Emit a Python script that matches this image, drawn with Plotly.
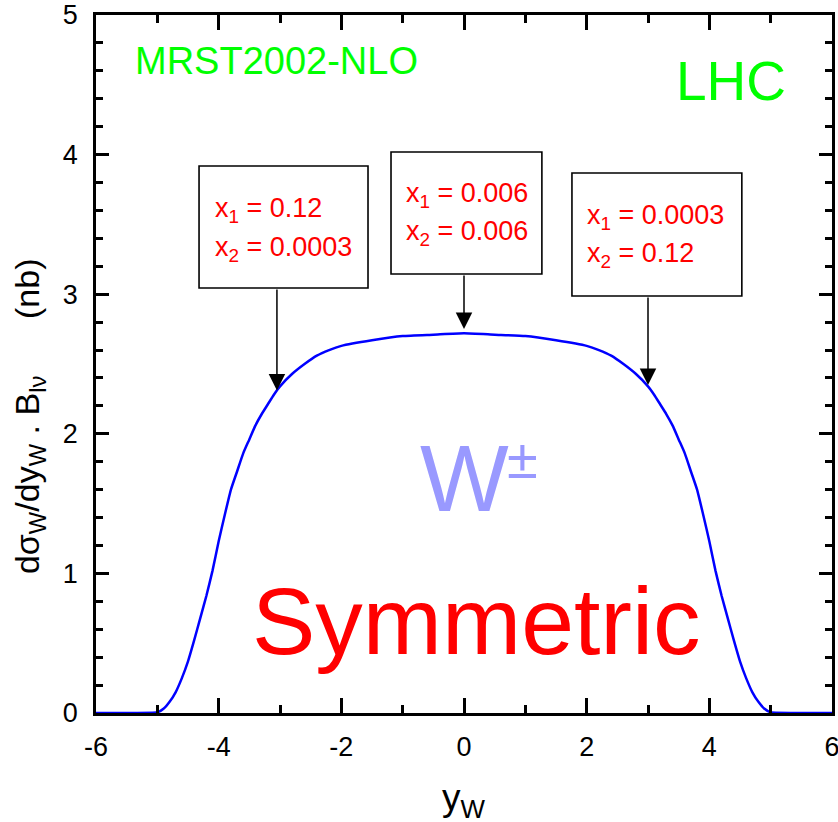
import plotly.graph_objects as go

# Rapidity values (positive half; the distribution is symmetric in y_W)
y_half = [0.0, 0.5, 1.0, 1.5, 2.0, 2.2, 2.4, 2.6, 2.8, 3.0, 3.1, 3.2, 3.3, 3.4,
          3.5, 3.6, 3.7, 3.8, 3.9, 4.0, 4.1, 4.2, 4.3, 4.4, 4.5, 4.6, 4.7,
          4.8, 4.9, 5.0, 5.5, 6.0]
# dsigma_W/dy_W * B(l nu) in nb at those rapidities
dsig_half = [2.72, 2.71, 2.70, 2.67, 2.63, 2.60, 2.56, 2.50, 2.43, 2.34, 2.28,
             2.21, 2.14, 2.06, 1.96, 1.86, 1.73, 1.60, 1.42, 1.23, 1.02, 0.84,
             0.68, 0.52, 0.37, 0.25, 0.15, 0.08, 0.03, 0.005, 0.0, 0.0]

y_w = [-v for v in reversed(y_half[1:])] + y_half
dsig = list(reversed(dsig_half[1:])) + dsig_half

# Axis tick values and labels (plain hyphen for negatives)
x_ticks = [-6, -4, -2, 0, 2, 4, 6]
x_ticklabels = ["-6", "-4", "-2", "0", "2", "4", "6"]
y_ticks = [0, 1, 2, 3, 4, 5]
y_ticklabels = ["0", "1", "2", "3", "4", "5"]

# Parton momentum fractions quoted at three rapidities
box_labels = [
    ("x<sub>1</sub> = 0.12", "x<sub>2</sub> = 0.0003"),
    ("x<sub>1</sub> = 0.006", "x<sub>2</sub> = 0.006"),
    ("x<sub>1</sub> = 0.0003", "x<sub>2</sub> = 0.12"),
]
arrow_y = [-3.05, 0.0, 3.0]

FONT = "Liberation Sans, Arial, sans-serif"

fig = go.Figure()
fig.add_trace(go.Scatter(x=y_w, y=dsig, mode="lines",
                         line=dict(color="#0000ff", width=2.5, shape="spline", smoothing=0.5),
                         hoverinfo="skip", showlegend=False))

# box geometry (x0, x1, y0, y1), text anchor (x, line1 y, line2 y), arrow (tail y, tip y)
boxes = [
    dict(x0=-4.32, x1=-1.565, y0=3.044, y1=3.918, tx=-4.09, ty=(3.60, 3.325), tail=3.044, tip=2.31),
    dict(x0=-1.19, x1=1.27, y0=3.145, y1=4.019, tx=-0.98, ty=(3.71, 3.435), tail=3.145, tip=2.75),
    dict(x0=1.76, x1=4.53, y0=2.987, y1=3.868, tx=1.97, ty=(3.55, 3.278), tail=2.987, tip=2.35),
]

annotations = []
shapes = []
for b, (l1, l2), ax_x in zip(boxes, box_labels, arrow_y):
    shapes.append(dict(type="rect", xref="x", yref="y", x0=b["x0"], x1=b["x1"],
                       y0=b["y0"], y1=b["y1"], line=dict(color="black", width=1.6),
                       fillcolor="white", layer="above"))
    for txt, ty in zip((l1, l2), b["ty"]):
        annotations.append(dict(x=b["tx"], y=ty, xref="x", yref="y", text=txt,
                                showarrow=False, xanchor="left", yanchor="middle",
                                font=dict(family=FONT, size=27, color="#ff0000")))
    annotations.append(dict(x=ax_x, y=b["tip"], ax=ax_x, ay=b["tail"], xref="x", yref="y",
                            axref="x", ayref="y", text="", showarrow=True,
                            arrowhead=2, arrowsize=2.2, arrowwidth=1.5, arrowcolor="black"))

annotations += [
    dict(x=-3.05, y=4.67, xref="x", yref="y", text="MRST2002-NLO", showarrow=False,
         font=dict(family=FONT, size=38, color="#00ff00")),
    dict(x=4.35, y=4.53, xref="x", yref="y", text="LHC", showarrow=False,
         font=dict(family=FONT, size=55, color="#00ff00")),
    dict(x=0.0, y=1.68, xref="x", yref="y", text="W", showarrow=False,
         font=dict(family=FONT, size=94, color="#9999ff")),
    dict(x=0.95, y=1.82, xref="x", yref="y", text="±", showarrow=False,
         font=dict(family=FONT, size=56, color="#9999ff")),
    dict(x=0.21, y=0.66, xref="x", yref="y", text="Symmetric", showarrow=False,
         font=dict(family=FONT, size=95, color="#ff0000")),
    dict(x=-0.122, y=0.425, xref="paper", yref="paper",
         text="dσ<sub>W</sub>/dy<sub>W</sub> . B<sub>lν</sub>\u00a0\u00a0\u00a0\u00a0\u00a0\u00a0(nb)",
         textangle=-90, showarrow=False,
         font=dict(family=FONT, size=34, color="black")),
    dict(x=0.5, y=-0.16, xref="paper", yref="paper", text="y<sub>W</sub>",
         showarrow=False, font=dict(family=FONT, size=37, color="black")),
]

axis_common = dict(showline=True, linecolor="black", linewidth=2.5, mirror="ticks",
                   ticks="inside", tickcolor="black", tickwidth=2.5, showgrid=False,
                   zeroline=False, automargin=False, ticklabeloverflow="allow",
                   tickfont=dict(family=FONT, size=27, color="black"))

fig.update_xaxes(range=[-6, 6], tickmode="array", tickvals=x_ticks, ticktext=x_ticklabels,
                 ticklen=15, ticklabelstandoff=8,
                 minor=dict(dtick=1, tick0=-6, ticks="inside", ticklen=8, tickwidth=2.5,
                            tickcolor="black", showgrid=False),
                 **axis_common)
fig.update_yaxes(range=[0, 5], tickmode="array", tickvals=y_ticks, ticktext=y_ticklabels,
                 ticklen=13, ticklabelstandoff=10,
                 minor=dict(dtick=0.2, tick0=0, ticks="inside", ticklen=7, tickwidth=2.5,
                            tickcolor="black", showgrid=False),
                 **axis_common)

fig.update_layout(width=838, height=822, margin=dict(l=96, r=6, t=15, b=109),
                  plot_bgcolor="white", paper_bgcolor="white",
                  shapes=shapes, annotations=annotations, showlegend=False)

fig.write_html("out.html")
